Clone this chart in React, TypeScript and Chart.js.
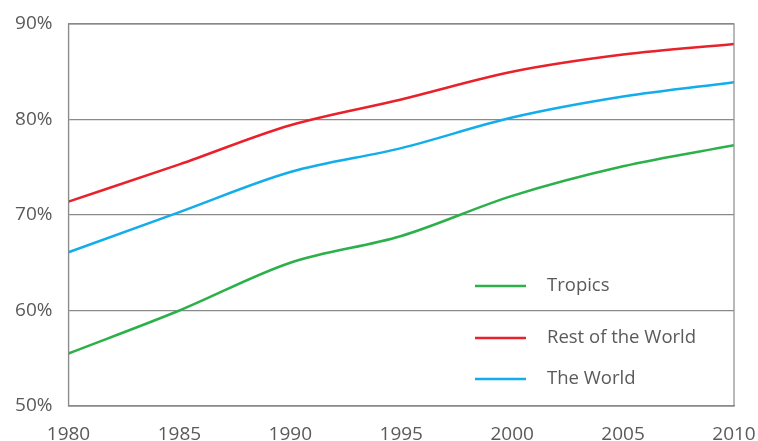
import React, { useEffect, useRef } from "react";
import { Chart, registerables } from "chart.js";

Chart.register(...registerables);

const years = [1980, 1985, 1990, 1995, 2000, 2005, 2010];
const tropics = [55.5, 60.0, 65.0, 67.8, 72.0, 75.1, 77.3];
const restOfWorld = [71.4, 75.3, 79.4, 82.1, 85.0, 86.8, 87.9];
const theWorld = [66.1, 70.3, 74.5, 77.0, 80.2, 82.4, 83.9];
const seriesLabels = ["Tropics", "Rest of the World", "The World"];
const seriesColors = ["#2bb04a", "#e8212a", "#12adea"];

const FONT = "'Open Sans', 'Noto Sans', sans-serif";
const TEXT = "#5a5a5a";
const AXIS = "#8a8a8a";

export default function App() {
  const ref = useRef<HTMLCanvasElement | null>(null);
  useEffect(() => {
    document.body.style.margin = "0";
    const ctx = ref.current!;
    const toPts = (arr: number[]) => years.map((y, i) => ({ x: y, y: arr[i] }));
    const series = [tropics, restOfWorld, theWorld];

    const frame = {
      id: "frame",
      afterDraw(chart: any) {
        const { ctx, chartArea: a } = chart;
        ctx.save();
        ctx.strokeStyle = AXIS;
        ctx.lineWidth = 1.2;
        ctx.strokeRect(a.left, a.top, a.right - a.left, a.bottom - a.top);
        ctx.restore();
      },
    };

    const insideLegend = {
      id: "insideLegend",
      afterDatasetsDraw(chart: any) {
        const { ctx, chartArea: a } = chart;
        const rows = [262, 314, 355];
        ctx.save();
        chart.data.datasets.forEach((ds: any, i: number) => {
          const y = a.top + rows[i];
          ctx.strokeStyle = ds.borderColor;
          ctx.lineWidth = 2.5;
          ctx.beginPath();
          ctx.moveTo(a.left + 406.5, y);
          ctx.lineTo(a.left + 457.5, y);
          ctx.stroke();
          ctx.fillStyle = TEXT;
          ctx.font = `18.5px ${FONT}`;
          ctx.textBaseline = "middle";
          ctx.textAlign = "left";
          ctx.fillText(ds.label, a.left + 478.5, y);
        });
        ctx.restore();
      },
    };

    const chart = new Chart(ctx, {
      type: "line",
      data: {
        datasets: series.map((s, i) => ({
          label: seriesLabels[i],
          data: toPts(s),
          borderColor: seriesColors[i],
          backgroundColor: seriesColors[i],
          borderWidth: 2.5,
          pointRadius: 0,
          tension: 0.4,
          cubicInterpolationMode: "monotone" as const,
          fill: false,
        })),
      },
      options: {
        animation: false,
        responsive: false,
        maintainAspectRatio: false,
        layout: { padding: { left: 0, top: 24, right: 24, bottom: 0 } },
        plugins: { legend: { display: false }, tooltip: { enabled: false } },
        scales: {
          x: {
            type: "linear",
            min: 1980,
            max: 2010,
            afterFit(scale: any) {
              scale.height = 35;
              scale.paddingLeft = 0;
              scale.paddingRight = 0;
            },
            ticks: {
              stepSize: 5,
              color: TEXT,
              font: { family: FONT, size: 19 },
              padding: 17,
              maxRotation: 0,
              callback: (v: any) => String(v),
            },
            grid: { display: false, drawTicks: false },
            border: { display: true, color: AXIS, width: 1.2 },
          },
          y: {
            min: 50,
            max: 90,
            afterFit(scale: any) {
              scale.width = 68.5;
              scale.paddingTop = 0;
              scale.paddingBottom = 0;
            },
            ticks: {
              stepSize: 10,
              color: TEXT,
              font: { family: FONT, size: 19 },
              padding: 16,
              callback: (v: any) => v + "%",
            },
            grid: { color: AXIS, lineWidth: 1.2, drawTicks: false },
            border: { display: true, color: AXIS, width: 1.2 },
          },
        },
      },
      plugins: [frame, insideLegend],
    });
    return () => chart.destroy();
  }, []);
  return (
    <div style={{ width: 758, height: 441 }}>
      <canvas ref={ref} width={758} height={441} style={{ display: "block" }} />
    </div>
  );
}
